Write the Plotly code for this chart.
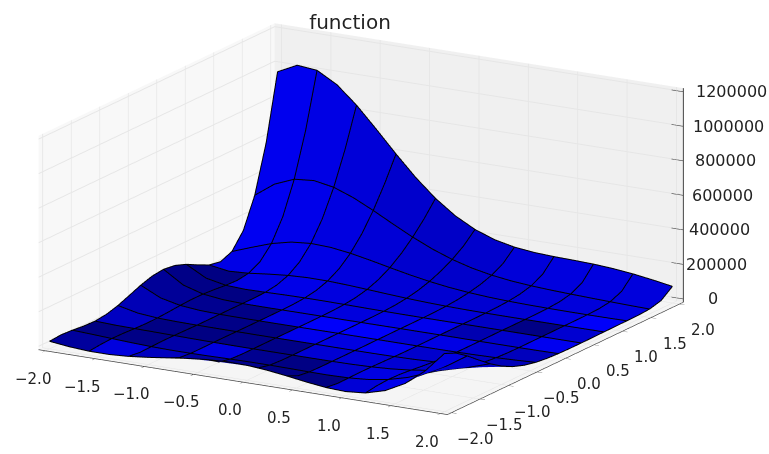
import plotly.graph_objects as go

x_vals = [round(-2 + 0.2 * n, 1) for n in range(21)]
y_vals = list(x_vals)
z_rows = [
    [24376, 10884, 3152, 2686, 9491, 21886, 37212, 52180, 63480, 68796, 66600, 57013, 41933, 24729, 10543, 5278, 15397, 47321, 106178, 195585, 316600],
    [29931, 19425, 9928, 3485, 1059, 2658, 7301, 13193, 18439, 21300, 20803, 16971, 10870, 4958, 2627, 8044, 25782, 59999, 114153, 190140, 287973],
    [25655, 20148, 13755, 7766, 3190, 837, 635, 1938, 3720, 4970, 5004, 3726, 1911, 1110, 3662, 12488, 30622, 60947, 105560, 165449, 240010],
    [18104, 15131, 12355, 8771, 5160, 2346, 711, 180, 355, 700, 774, 512, 355, 1336, 5054, 13460, 28662, 52540, 86436, 130763, 184844],
    [15589, 10590, 8506, 6815, 4761, 2808, 1320, 426, 80, 37, 54, 62, 319, 1490, 4614, 11047, 22200, 39347, 63337, 94338, 131788],
    [23651, 10632, 6036, 4278, 3089, 2100, 1172, 495, 138, 20, 3, 23, 209, 959, 2961, 7100, 14357, 25634, 41468, 61978, 86691],
    [42794, 17523, 7038, 3182, 1800, 1136, 653, 279, 78, 22, 27, 24, 46, 311, 1240, 3430, 7558, 14214, 23888, 36630, 52291],
    [69703, 29394, 11326, 4020, 1420, 579, 251, 86, 35, 75, 147, 171, 114, 60, 245, 1058, 2954, 6403, 11715, 19080, 28543],
    [97566, 42494, 16680, 5716, 1680, 413, 88, 30, 73, 195, 346, 451, 440, 294, 121, 142, 673, 2046, 4558, 8415, 13768],
    [118685, 52020, 20235, 6684, 1725, 315, 67, 91, 172, 311, 496, 700, 809, 747, 525, 247, 99, 326, 1178, 2861, 5634],
    [126600, 53747, 19660, 5727, 1180, 278, 367, 500, 512, 511, 600, 784, 987, 1066, 975, 726, 391, 135, 138, 592, 1736],
    [117576, 46040, 14523, 3297, 867, 1300, 1990, 2136, 1819, 1340, 980, 874, 958, 1073, 1155, 1074, 832, 509, 217, 84, 289],
    [92603, 30837, 7452, 2110, 3452, 5855, 7091, 6824, 5560, 3945, 2538, 1576, 1105, 990, 1042, 1099, 1033, 858, 616, 346, 138],
    [57931, 14625, 4355, 7551, 13711, 17984, 19058, 17340, 13965, 10096, 6582, 3933, 2211, 1302, 973, 928, 944, 980, 952, 848, 651],
    [25987, 8022, 14489, 27578, 38184, 43076, 42200, 37093, 29695, 21846, 14755, 9174, 5242, 2826, 1526, 972, 840, 923, 1120, 1321, 1467],
    [13603, 25322, 49862, 71735, 84544, 87100, 81144, 69541, 55404, 41210, 28611, 18559, 11241, 6375, 3461, 1876, 1154, 992, 1187, 1614, 2275],
    [41273, 83383, 123449, 150225, 160440, 155698, 139872, 117636, 93145, 69630, 49296, 33064, 21161, 12984, 7784, 4645, 2880, 1953, 1663, 1950, 2810],
    [131361, 198825, 247920, 272060, 272097, 252898, 220997, 182813, 143715, 107839, 77432, 53665, 36265, 24276, 16445, 11456, 8158, 5917, 4355, 3512, 3680],
    [304089, 386557, 433240, 443499, 422915, 380317, 324838, 264726, 206919, 155744, 113944, 81968, 59080, 43679, 33696, 27078, 22201, 18070, 14136, 10683, 8124],
    [576130, 656700, 684726, 666253, 612531, 536088, 448899, 361611, 281595, 214059, 160875, 121940, 95551, 78912, 68672, 62005, 56355, 50046, 42495, 33931, 25543],
    [956600, 1012463, 1001213, 936826, 835868, 714846, 589401, 470906, 368378, 285857, 224616, 183342, 158720, 145808, 140147, 137150, 132929, 124991, 112625, 95839, 76728],
]
xy_ticks = [-2.0, -1.5, -1.0, -0.5, 0.0, 0.5, 1.0, 1.5, 2.0]
xy_tick_labels = ["\u22122.0", "\u22121.5", "\u22121.0", "\u22120.5", "0.0", "0.5", "1.0", "1.5", "2.0"]
z_ticks = [0, 200000, 400000, 600000, 800000, 1000000, 1200000]
z_tick_labels = ["0", "200000", "400000", "600000", "800000", "1000000", "1200000"]
title_text = "function"
x_range = [-2.07, 2.07]
y_range = [-2.07, 2.07]
z_range = [-20000, 1220000]

nx, ny = len(x_vals), len(y_vals)
stride = 2
mx, my, mz, ti, tj, tk, fc = [], [], [], [], [], [], []
for r in range(ny):
    for c in range(nx):
        mx.append(x_vals[c]); my.append(y_vals[r]); mz.append(z_rows[r][c])


def cell_colour(r0, c0):
    # shade each patch from three points on its outline: its first corner and
    # the points one and two thirds of the way round the perimeter
    r1, c1 = r0 + stride, c0 + stride
    z0 = z_rows[r0][c0]
    z1 = z_rows[r0][c1] + (z_rows[r0 + 1][c1] - z_rows[r0][c1]) * 2 / 3
    z2 = z_rows[r1][c0] + (z_rows[r1][c0 + 1] - z_rows[r1][c0]) * 2 / 3
    d1, d2 = z1 - z0, z2 - z0
    w, h = 0.4, 0.4 / 3
    det = w * w - h * h
    gx = (w * d1 - h * d2) / det
    gy = (w * d2 - h * d1) / det
    n = (gx * gx + gy * gy + 1) ** 0.5
    s = (gx + gy + 0.5) / n / 1.5
    return f"rgb(0,0,{int(255 * (0.5 + 0.5 * (s + 1) / 2))})"


for r in range(ny - 1):
    for c in range(nx - 1):
        col = cell_colour(r - r % stride, c - c % stride)
        a = r * nx + c
        ti += [a, a]; tj += [a + 1, a + nx + 1]; tk += [a + nx + 1, a + nx]
        fc += [col, col]

fig = go.Figure()
fig.add_trace(go.Mesh3d(x=mx, y=my, z=mz, i=ti, j=tj, k=tk, facecolor=fc, flatshading=True,
                        lighting=dict(ambient=1, diffuse=0, specular=0, roughness=1, fresnel=0),
                        hoverinfo="skip", showscale=False))
# mesh lines sit a hair toward the viewer so the surface does not swallow them
ox, oy, oz = 0.018, -0.032, 6500
for r in range(0, ny, stride):
    fig.add_trace(go.Scatter3d(x=[v + ox for v in x_vals], y=[y_vals[r] + oy] * nx, z=[v + oz for v in z_rows[r]],
                               mode="lines", line=dict(color="black", width=2), showlegend=False, hoverinfo="skip"))
for c in range(0, nx, stride):
    fig.add_trace(go.Scatter3d(x=[x_vals[c] + ox] * ny, y=[v + oy for v in y_vals], z=[row[c] + oz for row in z_rows],
                               mode="lines", line=dict(color="black", width=2), showlegend=False, hoverinfo="skip"))

cx, cy = x_range[1], y_range[1]
fig.add_trace(go.Scatter3d(x=[cx, cx], y=[cy, cy], z=z_range, mode="lines",
                           line=dict(color="#444444", width=2), showlegend=False, hoverinfo="skip"))
for t in z_ticks:
    fig.add_trace(go.Scatter3d(x=[cx - 0.12, cx], y=[cy, cy], z=[t, t], mode="lines",
                               line=dict(color="#444444", width=2), showlegend=False, hoverinfo="skip"))

notes = [dict(x=cx, y=cy, z=t, text=lab, showarrow=False, xanchor="center", yanchor="middle", xshift=30 + 3 * n,
              font=dict(family="DejaVu Sans", size=16, color="#222222"))
         for n, (t, lab) in enumerate(zip(z_ticks, z_tick_labels))]
notes += [dict(x=t, y=y_range[0], z=z_range[0], text=lab, showarrow=False, xanchor="center", yanchor="middle",
               xshift=-13, yshift=-28, font=dict(family="DejaVu Sans", size=15, color="#222222"))
          for t, lab in zip(xy_ticks, xy_tick_labels)]
notes += [dict(x=x_range[1], y=t, z=z_range[0], text=lab, showarrow=False, xanchor="center", yanchor="middle",
               xshift=24, yshift=-26, font=dict(family="DejaVu Sans", size=15, color="#222222"))
          for t, lab in zip(xy_ticks, xy_tick_labels)]

axis_common = dict(showgrid=True, gridcolor="#e6e6e6", gridwidth=2, showbackground=True,
                   showline=True, linecolor="#444444", linewidth=1.5, ticks="outside", ticklen=6,
                   tickcolor="#444444", title=dict(text=""), zeroline=False, showticklabels=False)
fig.update_layout(
    width=769, height=454, margin=dict(l=0, r=0, t=0, b=0), paper_bgcolor="white", showlegend=False,
    title=dict(text=title_text, x=350 / 769, xanchor="center", y=1 - 22 / 454, yanchor="middle",
               font=dict(family="DejaVu Sans", size=20, color="#222222")),
    scene=dict(
        domain=dict(x=[0.0117, 0.9477], y=[0.0264, 0.9824]),
        aspectmode="manual", aspectratio=dict(x=2.175, y=2.175, z=1.026),
        camera=dict(projection=dict(type="orthographic"),
                    eye=dict(x=0.4807 * 4 + 0.032, y=-0.8325 * 4 + 0.018, z=0.275 * 4 - 0.029),
                    center=dict(x=0.032, y=0.018, z=-0.029), up=dict(x=0, y=0, z=1)),
        xaxis=dict(range=x_range, tickvals=xy_ticks, backgroundcolor="#f8f8f8", **axis_common),
        yaxis=dict(range=y_range, tickvals=xy_ticks, backgroundcolor="#f0f0f0", **axis_common),
        zaxis=dict(range=z_range, tickvals=z_ticks, backgroundcolor="#f5f5f5",
                   **{k: v for k, v in axis_common.items() if k not in ("ticks", "showline")},
                   ticks="", showline=False),
        annotations=notes,
    ),
)
fig.write_html("out.html", config={"displayModeBar": False},
               post_script="document.body.style.margin='0';window.dispatchEvent(new Event('resize'));")
